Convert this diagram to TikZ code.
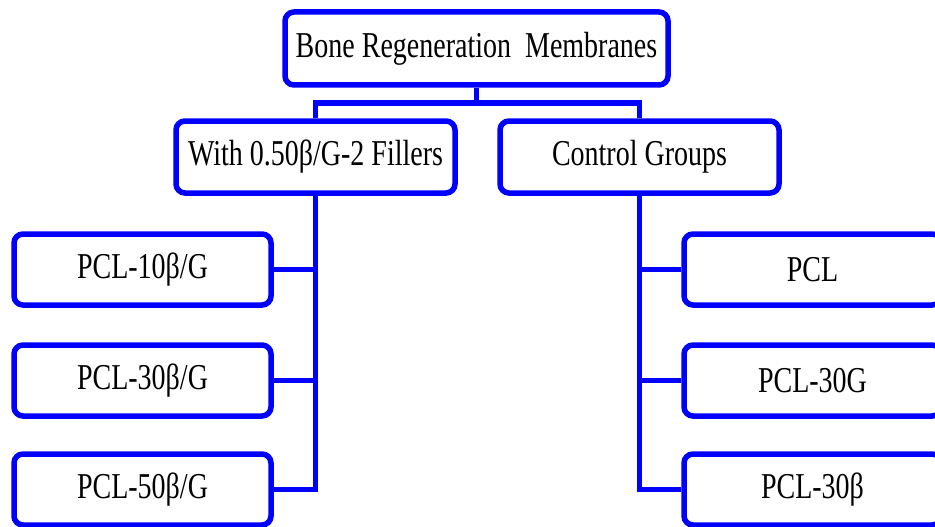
\documentclass[tikz,border=0pt]{standalone}
\usepackage{fontspec}
\usepackage{graphicx}
\setmainfont{Liberation Serif}
\definecolor{linkblue}{RGB}{0,0,255}
\newcommand{\tall}[1]{\scalebox{1}[1.3]{#1}}
\begin{document}
\begin{tikzpicture}[x=1pt,y=-1pt,
  box/.style={draw=linkblue, line width=5.5pt, rounded corners=9pt, fill=white,
    inner sep=0pt, font=\fontsize{28}{30}\selectfont},
  leaf/.style={box, minimum width=257pt, minimum height=71pt},
  mid/.style={box, minimum width=279pt, minimum height=72pt},
  link/.style={draw=linkblue, line width=5.5pt}]
  \fill[white] (0,0) rectangle (935,527);
  \useasboundingbox (0,0) rectangle (935,527);

  % root and the two groups
  \node[box, minimum width=383pt, minimum height=73pt] (top) at (476.5,48.5)
    {\tall{Bone Regeneration\ \ Membranes}};
  \node[mid] (lmid) at (315.5,157) {\tall{With 0.50β/G-2 Fillers}};
  \node[mid] (rmid) at (639.5,157) {\tall{Control Groups}};

  % membranes with fillers
  \node[leaf] (l1) at (142.5,269.5) {\tall{PCL-10β/G}};
  \node[leaf] (l2) at (142.5,380.5) {\tall{PCL-30β/G}};
  \node[leaf] (l3) at (142.5,489.5) {\tall{PCL-50β/G}};

  % control membranes
  \node[leaf] (r1) at (812.5,269.5) {\tall{PCL}};
  \node[leaf] (r2) at (812.5,380.5) {\tall{PCL-30G}};
  \node[leaf] (r3) at (812.5,489.5) {\tall{PCL-30β}};

  % connectors
  \coordinate (bar) at (0,103);
  \path[link] (top.south) -- (top.south |- bar);
  \path[link] (lmid.north) -- (lmid.north |- bar) -- (rmid.north |- bar) -- (rmid.north);

  \path[link] (lmid.south) |- (l3.east);
  \path[link] (l1.east) -- (l1.east -| lmid.south);
  \path[link] (l2.east) -- (l2.east -| lmid.south);

  \path[link] (rmid.south) |- (r3.west);
  \path[link] (r1.west) -- (r1.west -| rmid.south);
  \path[link] (r2.west) -- (r2.west -| rmid.south);
\end{tikzpicture}
\end{document}
